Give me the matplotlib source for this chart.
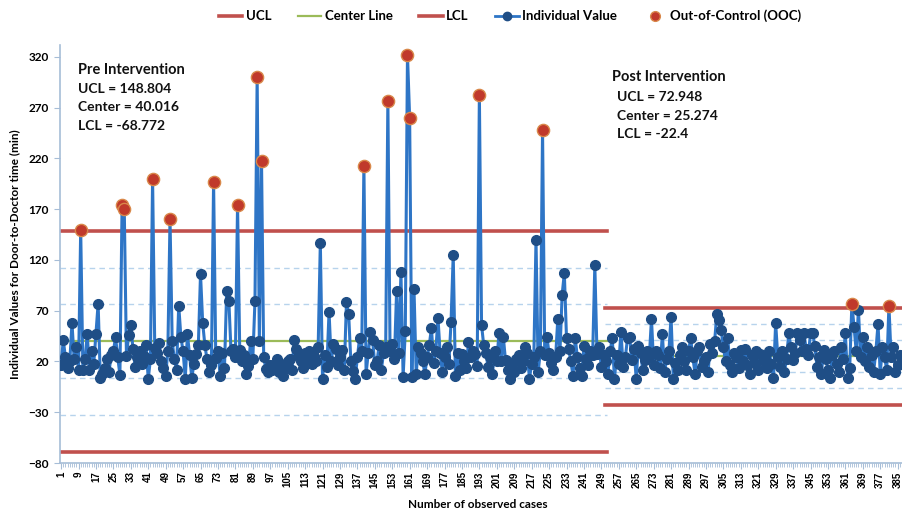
import numpy as np
import matplotlib
matplotlib.use("Agg")
import matplotlib.pyplot as plt
from matplotlib.lines import Line2D

plt.rcParams['font.family'] = ['Lato', 'DejaVu Sans']

# door-to-doctor times (min)
pre_values = [
    17, 41, 24, 14, 20, 58, 22, 34, 12, 150,
    12, 22, 47, 12, 30, 18, 47, 77, 4, 8,
    14, 22, 10, 26, 30, 44, 24, 7, 174, 170,
    25, 46, 56, 32, 15, 24, 30, 18, 25, 36,
    3, 22, 200, 33, 28, 38, 20, 14, 6, 30,
    160, 40, 22, 12, 75, 44, 30, 3, 47, 26,
    4, 18, 27, 36, 106, 58, 36, 22, 10, 17,
    197, 23, 30, 6, 28, 14, 89, 80, 30, 32,
    24, 174, 31, 20, 26, 8, 16, 40, 22, 80,
    300, 40, 218, 24, 13, 10, 17, 12, 15, 22,
    10, 18, 6, 14, 20, 22, 12, 41, 32, 26,
    20, 14, 28, 22, 30, 18, 25, 20, 34, 137,
    3, 26, 15, 69, 20, 37, 32, 17, 24, 31,
    12, 79, 67, 20, 11, 3, 24, 43, 30, 213,
    8, 28, 49, 41, 17, 20, 36, 12, 28, 34,
    277, 30, 37, 22, 89, 28, 108, 5, 50, 322,
    260, 5, 91, 8, 34, 28, 20, 8, 24, 36,
    53, 19, 30, 63, 28, 10, 24, 34, 18, 59,
    125, 6, 28, 12, 27, 20, 14, 39, 24, 30,
    27, 16, 283, 56, 36, 28, 15, 24, 8, 30,
    20, 48, 20, 44, 21, 12, 3, 18, 10, 22,
    26, 14, 20, 34, 28, 3, 18, 24, 140, 10,
    30, 248, 26, 44, 28, 19, 12, 24, 62, 30,
    86, 107, 43, 32, 20, 6, 43, 24, 14, 6,
    35, 22, 17, 30, 26, 115, 27, 34, 15, 26,
]
post_values = [
    20, 8, 30, 43, 3, 26, 18, 49, 15, 24,
    43, 44, 21, 32, 3, 35, 28, 12, 21, 30,
    24, 62, 17, 30, 26, 14, 47, 10, 22, 30,
    64, 3, 19, 12, 26, 34, 20, 12, 30, 43,
    24, 8, 30, 34, 15, 20, 24, 10, 37, 28,
    40, 67, 61, 51, 34, 20, 43, 17, 10, 28,
    24, 14, 31, 20, 32, 17, 8, 26, 19, 30,
    12, 27, 20, 24, 14, 30, 18, 4, 58, 24,
    15, 30, 10, 22, 48, 34, 21, 28, 48, 41,
    30, 48, 32, 26, 48, 48, 35, 15, 24, 8,
    31, 22, 12, 4, 26, 30, 18, 10, 34, 22,
    48, 4, 14, 77, 54, 30, 71, 24, 44, 20,
    34, 15, 26, 10, 30, 57, 8, 34, 24, 12,
    75, 24, 34, 10, 17, 26, 20,
]

pre_limits = {"UCL": 148.804, "Center": 40.016, "LCL": -68.772}
post_limits = {"UCL": 72.948, "Center": 25.274, "LCL": -22.4}

y_ticks = [-80, -30, 20, 70, 120, 170, 220, 270, 320]

RED = "#C0504D"
GREEN = "#9BBB59"
LINE_BLUE = "#2E75C6"
DOT_BLUE = "#1F4E86"
SIGMA = "#B7D3EC"

n_pre = len(pre_values)
values = np.array(pre_values + post_values, dtype=float)
n = len(values)
x = np.arange(1, n + 1)

fig = plt.figure(figsize=(9.02, 5.15), dpi=100)
ax = fig.add_axes([60 / 902, 1 - 463 / 515, 842 / 902, 418 / 515])

x_end = n + 0.0
split = n_pre + 0.5
segments = [(0.5, split + 1, pre_limits), (split, x_end, post_limits)]
for x0, x1, lim in segments:
    sd = (lim["UCL"] - lim["Center"]) / 3
    for k in (-2, -1, 1, 2):
        ax.plot([x0, x1], [lim["Center"] + k * sd] * 2, color=SIGMA, lw=1.0,
                ls=(0, (4, 3)), zorder=1)
    ax.plot([x0, x1], [lim["UCL"]] * 2, color=RED, lw=2.6, zorder=2)
    ax.plot([x0, x1], [lim["LCL"]] * 2, color=RED, lw=2.6, zorder=2)
    ax.plot([x0, x1], [lim["Center"]] * 2, color=GREEN, lw=1.6, zorder=2)

ax.plot(x, values, color=LINE_BLUE, lw=2.2, marker="o", ms=7.0,
        mfc=DOT_BLUE, mec=DOT_BLUE, zorder=3)

ucl = np.where(x <= n_pre, pre_limits["UCL"], post_limits["UCL"])
ooc = values > ucl
ax.plot(x[ooc], values[ooc], ls="none", marker="o", ms=8.8,
        mfc="#C0392B", mec="#D9884A", mew=1.0, zorder=4)

ax.set_xlim(0.5, x_end)
ax.set_ylim(-80, 331.8)
ax.set_yticks(y_ticks)
ax.set_xticks(np.arange(1, n + 1, 8))
ax.set_xticks(x, minor=True)
ax.tick_params(axis="y", labelsize=8.5, length=4, color="#A6BDD7", pad=4)
ax.tick_params(axis="x", which="major", labelsize=7, length=4, color="#A6BDD7",
               labelrotation=90, pad=2)
ax.tick_params(axis="x", which="minor", length=3, color="#A6BDD7")
for lab in ax.get_yticklabels():
    lab.set_fontweight("bold")
for lab in ax.get_xticklabels():
    lab.set_fontweight("bold")
    lab.set_family("Liberation Sans")

for side in ("top", "right"):
    ax.spines[side].set_visible(False)
for side in ("left", "bottom"):
    ax.spines[side].set_color("#A6BDD7")
    ax.spines[side].set_linewidth(1.2)

ax.set_ylabel("Individual Values for Door-to-Doctor time (min)", fontsize=8.5,
              fontweight="bold", labelpad=6)
fig.text(478 / 902, 1 - 505 / 515, "Number of observed cases", ha="center",
         va="center", fontsize=8.5, fontweight="bold")

def px_text(px, py, s, size=10, weight="bold"):
    fig.text(px / 902, 1 - py / 515, s, ha="left", va="center",
             fontsize=size, fontweight=weight, color="#111111")

px_text(78, 70, "Pre Intervention", 10.5)
px_text(78, 89, "UCL = %.3f" % pre_limits["UCL"])
px_text(78, 107, "Center = %.3f" % pre_limits["Center"])
px_text(78, 126, "LCL = %.3f" % pre_limits["LCL"])

px_text(612, 77, "Post Intervention", 10.5)
px_text(617, 97, "UCL = %.3f" % post_limits["UCL"])
px_text(617, 116, "Center = %.3f" % post_limits["Center"])
px_text(617, 134, "LCL = %.1f" % post_limits["LCL"])

handles = [
    Line2D([], [], color=RED, lw=2.6),
    Line2D([], [], color=GREEN, lw=1.6),
    Line2D([], [], color=RED, lw=2.6),
    Line2D([], [], color=LINE_BLUE, lw=2.0, marker="o", ms=6, mfc=DOT_BLUE, mec=DOT_BLUE),
    Line2D([], [], ls="none", marker="o", ms=7, mfc="#C0392B", mec="#D9884A"),
]
labels = ["UCL", "Center Line", "LCL", "Individual Value", "Out-of-Control (OOC)"]
leg = fig.legend(handles, labels, loc="center", bbox_to_anchor=(510 / 902, 1 - 16 / 515),
                 ncol=5, frameon=False, fontsize=9.5, handlelength=1.8,
                 columnspacing=2.0, handletextpad=0.25)
for t in leg.get_texts():
    t.set_fontweight("bold")

fig.savefig("out.png", dpi=100)
